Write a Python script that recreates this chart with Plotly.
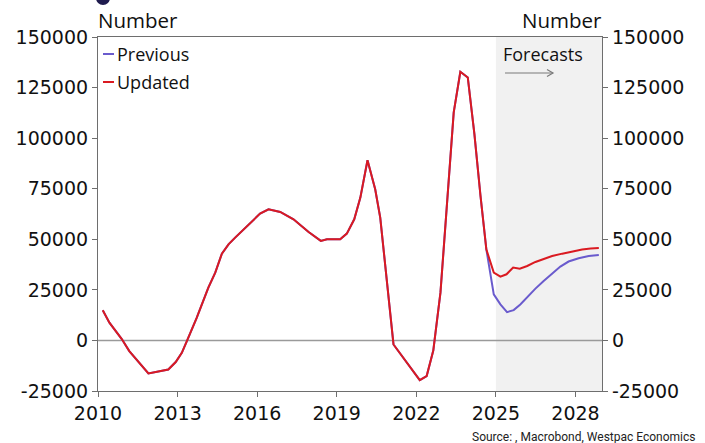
import plotly.graph_objects as go

# Shared history (decimal years) for both vintages
hist_years = [2010.18, 2010.43, 2010.89, 2011.18, 2011.90, 2012.65, 2012.93, 2013.16, 2013.35,
              2013.72, 2014.16, 2014.42, 2014.67, 2014.92, 2015.17, 2015.61, 2016.11, 2016.43,
              2016.87, 2017.37, 2017.94, 2018.40, 2018.63, 2019.13, 2019.38, 2019.66, 2019.89,
              2020.16, 2020.45, 2020.64, 2021.14, 2022.13, 2022.39, 2022.64, 2022.91, 2023.41,
              2023.66, 2023.94, 2024.19, 2024.42, 2024.64]
hist_values = [14900, 8800, 800, -5300, -16300, -14400, -10700, -6100, -300,
               11200, 26100, 33500, 42900, 47500, 50800, 56300, 62700, 64800,
               63500, 59900, 53600, 49200, 50000, 50000, 52800, 59900, 70600,
               89100, 74700, 60700, -2000, -19600, -17600, -5000, 23600, 112700,
               132800, 130000, 102000, 71400, 45000]

# Forecast paths
prev_years = [2024.92, 2025.17, 2025.42, 2025.67, 2025.92, 2026.18, 2026.49, 2026.80,
              2027.12, 2027.43, 2027.74, 2028.12, 2028.50, 2028.88]
prev_values = [22800, 17800, 14000, 15000, 17800, 21400, 25600, 29400,
               33200, 36500, 39000, 40600, 41700, 42200]
upd_years = [2024.92, 2025.17, 2025.40, 2025.65, 2025.90, 2026.18, 2026.49, 2026.80,
             2027.12, 2027.50, 2027.87, 2028.25, 2028.57, 2028.88]
upd_values = [33500, 31500, 32700, 36000, 35500, 36800, 38800, 40400,
              41700, 42900, 44000, 45000, 45500, 45700]

y_ticks = [-25000, 0, 25000, 50000, 75000, 100000, 125000, 150000]
y_tick_labels = ["-25000", "0", "25000", "50000", "75000", "100000", "125000", "150000"]
x_ticks = [2010, 2013, 2016, 2019, 2022, 2025, 2028]
forecast_start, x_end = 2025, 2029

PURPLE = "#6a5bcd"
RED = "#da1a21"
AXIS = "#6e6e6e"
TEXT_FONT = "Open Sans"
TICK_FONT = "DejaVu Sans"

fig = go.Figure()
fig.add_trace(go.Scatter(x=hist_years + prev_years, y=hist_values + prev_values,
                         mode="lines", line=dict(color=PURPLE, width=2), name="Previous"))
fig.add_trace(go.Scatter(x=hist_years + upd_years, y=hist_values + upd_values,
                         mode="lines", line=dict(color=RED, width=2), name="Updated"))
# right-hand axis mirrors the left one
fig.add_trace(go.Scatter(x=[x_end], y=[0], yaxis="y2", mode="markers",
                         marker=dict(opacity=0), showlegend=False, hoverinfo="skip"))

# plot-area geometry in pixels (used for placing decorations)
L, R, T, B = 98, 602, 37, 391
def px(xp):
    return (xp - L) / (R - L)
def py(yp):
    return (B - yp) / (B - T)

shapes = [
    dict(type="rect", xref="x", yref="paper", x0=forecast_start, x1=x_end, y0=0, y1=1,
         fillcolor="#f1f1f1", line=dict(width=0), layer="below"),
    dict(type="line", xref="paper", yref="y", x0=0, x1=1, y0=0, y1=0,
         line=dict(color="#9a9a9a", width=1.5), layer="below"),
    # legend keys
    dict(type="line", xref="paper", yref="paper", x0=px(103), x1=px(114), y0=py(54), y1=py(54),
         line=dict(color=PURPLE, width=2)),
    dict(type="line", xref="paper", yref="paper", x0=px(103), x1=px(114), y0=py(82), y1=py(82),
         line=dict(color=RED, width=2)),
    # forecast arrow
    dict(type="line", xref="paper", yref="paper", x0=px(505), x1=px(553), y0=py(73), y1=py(73),
         line=dict(color="#7a7a7a", width=1.2)),
    dict(type="path", xref="paper", yref="paper",
         path=f"M {px(547)},{py(69.5)} L {px(553)},{py(73)} L {px(547)},{py(76.5)}",
         line=dict(color="#7a7a7a", width=1.2)),
    # bullet at the top-left corner
    dict(type="circle", xref="paper", yref="paper", xsizemode="pixel", ysizemode="pixel",
         xanchor=px(103), yanchor=py(-2), x0=-7, x1=7, y0=-7, y1=7,
         fillcolor="#1f1b4e", line=dict(width=0)),
]

annotations = [
    dict(text="Previous", xref="paper", yref="paper", x=px(115), y=py(54),
         xanchor="left", yanchor="middle", showarrow=False, font=dict(size=18, color="#111")),
    dict(text="Updated", xref="paper", yref="paper", x=px(115), y=py(82),
         xanchor="left", yanchor="middle", showarrow=False, font=dict(size=18, color="#111")),
    dict(text="Forecasts", xref="paper", yref="paper", x=px(501), y=py(54),
         xanchor="left", yanchor="middle", showarrow=False, font=dict(size=18, color="#111")),
    dict(text="Number", xref="paper", yref="paper", x=px(96), y=py(20),
         xanchor="left", yanchor="middle", showarrow=False, font=dict(size=20.5, color="#111")),
    dict(text="Number", xref="paper", yref="paper", x=px(604), y=py(20),
         xanchor="right", yanchor="middle", showarrow=False, font=dict(size=20.5, color="#111")),
    dict(text="Source: , Macrobond, Westpac Economics", xref="paper", yref="paper",
         x=px(698), y=py(437), xanchor="right", yanchor="middle", showarrow=False,
         font=dict(size=12, color="#222", family="Liberation Sans Narrow, Roboto, sans-serif")),
]

yaxis_common = dict(range=[-25000, 150000], tickvals=y_ticks, ticktext=y_tick_labels,
                    ticks="outside", ticklen=5,
                    tickcolor=AXIS, showline=True, linecolor=AXIS, linewidth=1.2,
                    showgrid=False, zeroline=False,
                    tickfont=dict(size=19, color="#111", family=TICK_FONT))

fig.update_layout(
    width=705, height=443,
    margin=dict(l=L, r=705 - R, t=T, b=443 - B),
    paper_bgcolor="white", plot_bgcolor="white",
    font=dict(family=TEXT_FONT, color="#111"),
    showlegend=False,
    xaxis=dict(range=[2010, x_end], tickvals=x_ticks, ticks="outside", ticklen=5,
               tickcolor=AXIS, showline=True, linecolor=AXIS, linewidth=1.2, mirror=True,
               showgrid=False, zeroline=False,
               tickfont=dict(size=19, color="#111", family=TICK_FONT)),
    yaxis=dict(**yaxis_common, side="left"),
    yaxis2=dict(**yaxis_common, side="right", overlaying="y"),
    shapes=shapes,
    annotations=annotations,
)

fig.write_html("out.html")
